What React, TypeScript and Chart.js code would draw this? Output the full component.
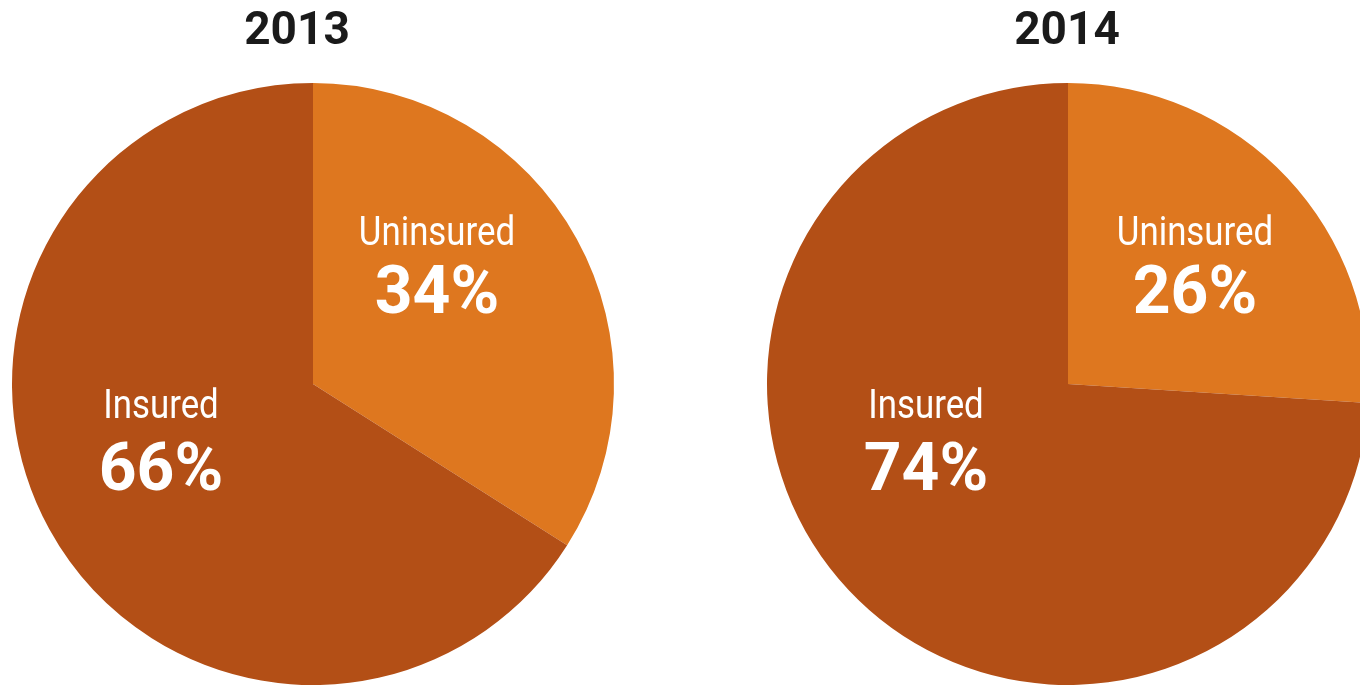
import React, { useEffect, useRef } from "react";
import { Chart, registerables } from "chart.js";

Chart.register(...registerables);

const years = ["2013", "2014"];
const categories = ["Uninsured", "Insured"];
const uninsuredPct = [34, 26];
const insuredPct = [66, 74];

const sliceColors = ["#DE771F", "#B34F16"];

// per-chart layout (canvas placement and label anchors, relative to pie center)
const chartLayouts = [
  {
    left: 0,
    width: 680,
    padding: { left: 12, right: 66, top: 83, bottom: 1 },
    titleDx: -16,
    anchors: [
      { dx: 124, nameY: -139, pctY: -71 },
      { dx: -152, nameY: 34, pctY: 106 },
    ],
  },
  {
    left: 680,
    width: 700,
    padding: { left: 87, right: 11, top: 83, bottom: 1 },
    titleDx: -1,
    anchors: [
      { dx: 127, nameY: -139, pctY: -71 },
      { dx: -142, nameY: 34, pctY: 106 },
    ],
  },
];

const labelPlugin = {
  id: "sliceLabels",
  afterDraw(chart: any) {
    const opts = chart.options.plugins.sliceLabels;
    const meta = chart.getDatasetMeta(0);
    const ctx = chart.ctx;
    const first = meta.data[0];
    if (!first) return;
    const cx = first.x;
    const cy = first.y;
    ctx.save();
    ctx.fillStyle = "#1a1a1a";
    ctx.textAlign = "center";
    ctx.textBaseline = "alphabetic";
    ctx.font = "bold 46px Roboto";
    ctx.fillText(opts.title, cx + opts.titleDx, 44);

    ctx.fillStyle = "#ffffff";
    const values = chart.data.datasets[0].data;
    chart.data.labels.forEach((name: string, i: number) => {
      const a = opts.anchors[i];
      const x = cx + a.dx;
      ctx.save();
      ctx.translate(x, cy + a.nameY);
      ctx.scale(0.85, 1);
      ctx.font = "41px Roboto";
      ctx.fillText(name, 0, 0);
      ctx.restore();
      ctx.font = "bold 66px Roboto";
      ctx.fillText(values[i] + "%", x, cy + a.pctY);
    });
    ctx.restore();
  },
};

function PieChart({ index }: { index: number }) {
  const ref = useRef<HTMLCanvasElement>(null);
  const layout = chartLayouts[index];
  useEffect(() => {
    if (!ref.current) return;
    const chart = new Chart(ref.current, {
      type: "pie",
      data: {
        labels: categories,
        datasets: [
          {
            data: [uninsuredPct[index], insuredPct[index]],
            backgroundColor: sliceColors,
            borderWidth: 0,
          },
        ],
      },
      options: {
        responsive: false,
        animation: false,
        layout: { padding: layout.padding },
        plugins: {
          legend: { display: false },
          tooltip: { enabled: false },
          title: { display: false },
          // @ts-ignore
          sliceLabels: {
            title: years[index],
            titleDx: layout.titleDx,
            anchors: layout.anchors,
          },
        },
      },
      plugins: [labelPlugin],
    });
    return () => chart.destroy();
  }, [index]);
  return (
    <canvas
      ref={ref}
      width={layout.width}
      height={686}
      style={{
        position: "absolute",
        left: layout.left,
        top: 0,
        width: layout.width,
        height: 686,
      }}
    />
  );
}

export default function App() {
  return (
    <div
      style={{
        position: "fixed",
        left: 0,
        top: 0,
        width: 1360,
        height: 686,
        overflow: "hidden",
        background: "#ffffff",
      }}
    >
      <PieChart index={0} />
      <PieChart index={1} />
    </div>
  );
}
